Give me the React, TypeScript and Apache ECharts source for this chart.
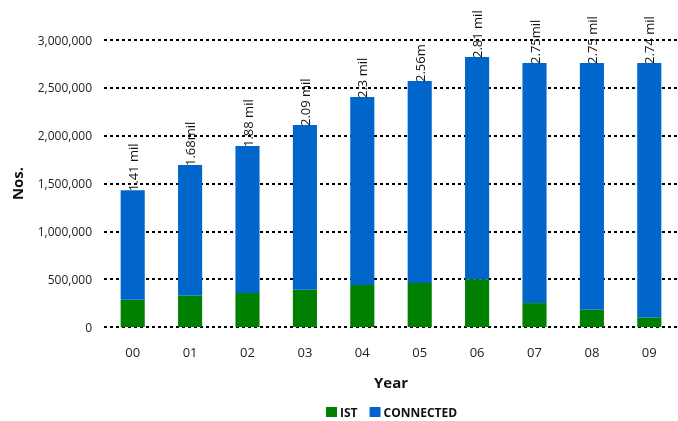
import React, { useEffect, useRef } from "react";
import * as echarts from "echarts";

const years = ["00", "01", "02", "03", "04", "05", "06", "07", "08", "09"];
const istValues = [285000, 330000, 355000, 390000, 440000, 460000, 500000, 250000, 180000, 100000];
const totalValues = [1430000, 1693000, 1892000, 2111000, 2404000, 2571000, 2822000, 2760000, 2760000, 2760000];
const connectedValues = totalValues.map((t, i) => t - istValues[i]);
const totalLabels = ["1.41 mil", "1.68mil", "1.88 mil", "2.09 mil", "2.3 mil", "2.56m", "2.81 mil", "2.75mil", "2.75 mil", "2.74 mil"];

const FONT = "'Open Sans', 'Noto Sans', sans-serif";

export default function App() {
  const ref = useRef<HTMLDivElement>(null);
  useEffect(() => {
    if (!ref.current) return;
    const chart = echarts.init(ref.current, undefined, { renderer: "svg" });
    chart.setOption({
      animation: false,
      textStyle: { fontFamily: FONT },
      grid: { left: 104, right: -3, top: 40, bottom: 94 },
      legend: {
        bottom: -2,
        left: 321,
        itemWidth: 11,
        itemHeight: 10,
        itemGap: 12,
        icon: "rect",
        textStyle: { fontFamily: FONT, fontSize: 12, fontWeight: "bold", color: "#111", padding: [0, 0, 0, -2] },
        data: ["IST", "CONNECTED"],
      },
      xAxis: {
        type: "category",
        data: years,
        name: "Year",
        nameLocation: "middle",
        nameGap: 47,
        nameTextStyle: { fontFamily: FONT, fontSize: 15, fontWeight: "bold", color: "#111" },
        axisLine: { show: false },
        axisTick: { show: false },
        axisLabel: { fontFamily: FONT, fontSize: 13, color: "#222", margin: 18 },
      },
      yAxis: {
        type: "value",
        min: 0,
        max: 3000000,
        interval: 500000,
        name: "Nos.",
        nameLocation: "middle",
        nameGap: 80,
        nameTextStyle: { fontFamily: FONT, fontSize: 15, fontWeight: "bold", color: "#111" },
        axisLine: { show: false },
        axisTick: { show: false },
        axisLabel: {
          fontFamily: FONT,
          fontSize: 12,
          color: "#222",
          margin: 12,
          formatter: (v: number) => v.toLocaleString("en-US"),
        },
        splitLine: { lineStyle: { color: "#000", width: 2, type: [3, 3] } },
      },
      series: [
        {
          name: "IST",
          type: "bar",
          stack: "total",
          barWidth: "42%",
          data: istValues,
          itemStyle: { color: "#008000" },
        },
        {
          name: "CONNECTED",
          type: "bar",
          stack: "total",
          barWidth: "42%",
          data: connectedValues,
          itemStyle: { color: "#0066CC" },
          label: {
            show: true,
            position: "top",
            rotate: 90,
            align: "left",
            verticalAlign: "middle",
            distance: -1,
            fontFamily: FONT,
            fontSize: 13,
            color: "#111",
            formatter: (p: any) => totalLabels[p.dataIndex],
          },
        },
      ],
    });
    return () => chart.dispose();
  }, []);
  return <div ref={ref} style={{ position: "fixed", left: 0, top: 0, width: 678, height: 421 }} />;
}
